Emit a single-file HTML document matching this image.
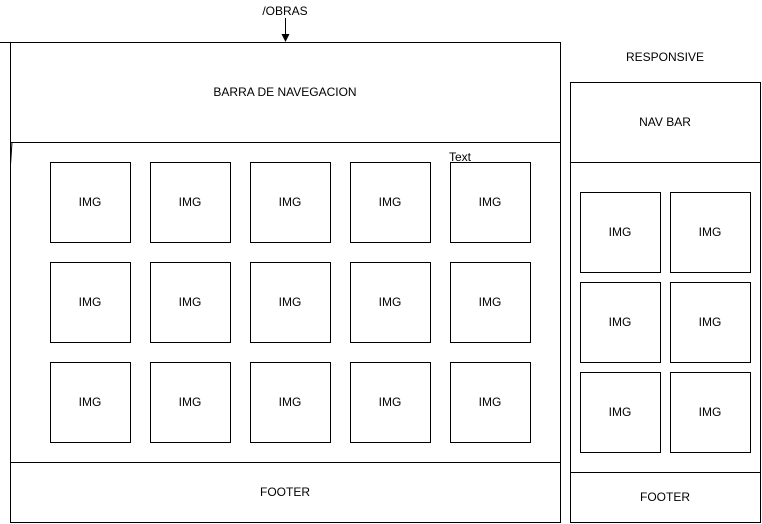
<!DOCTYPE html>
<html><head><style>body{margin:0;background:#fff}svg{display:block}text{font-family:"Liberation Sans",Arial,sans-serif;font-size:12px;fill:#000}</style></head><body>
<svg width="762" height="524" viewBox="0 0 762 524">
<g fill="none" stroke="#000" stroke-width="1">
<line x1="0" y1="42.5" x2="10" y2="42.5"/>
<line x1="12" y1="142" x2="10.5" y2="165"/>
<rect x="10.5" y="42.5" width="550" height="100"/>
<rect x="10.5" y="142.5" width="550" height="320"/>
<rect x="10.5" y="462.5" width="550" height="60"/>
<rect x="570.5" y="82.5" width="190" height="80"/>
<rect x="570.5" y="162.5" width="190" height="310"/>
<rect x="570.5" y="472.5" width="190" height="50"/>
<line x1="285.5" y1="18" x2="285.5" y2="36"/>
</g>
<polygon points="281.5,34 289.5,34 285.5,42" fill="#000"/>
<g fill="none" stroke="#000">
<rect x="50.5" y="162.5" width="80" height="80"/><rect x="150.5" y="162.5" width="80" height="80"/><rect x="250.5" y="162.5" width="80" height="80"/><rect x="350.5" y="162.5" width="80" height="80"/><rect x="450.5" y="162.5" width="80" height="80"/>
<rect x="50.5" y="262.5" width="80" height="80"/><rect x="150.5" y="262.5" width="80" height="80"/><rect x="250.5" y="262.5" width="80" height="80"/><rect x="350.5" y="262.5" width="80" height="80"/><rect x="450.5" y="262.5" width="80" height="80"/>
<rect x="50.5" y="362.5" width="80" height="80"/><rect x="150.5" y="362.5" width="80" height="80"/><rect x="250.5" y="362.5" width="80" height="80"/><rect x="350.5" y="362.5" width="80" height="80"/><rect x="450.5" y="362.5" width="80" height="80"/>
<rect x="580.5" y="192.5" width="80" height="80"/><rect x="670.5" y="192.5" width="80" height="80"/>
<rect x="580.5" y="282.5" width="80" height="80"/><rect x="670.5" y="282.5" width="80" height="80"/>
<rect x="580.5" y="372.5" width="80" height="80"/><rect x="670.5" y="372.5" width="80" height="80"/>
</g>
<g text-anchor="middle">
<text x="285" y="15" font-size="11">/OBRAS</text>
<text x="285" y="96">BARRA DE NAVEGACION</text>
<text x="285" y="496">FOOTER</text>
<text x="665" y="61">RESPONSIVE</text>
<text x="665" y="126">NAV BAR</text>
<text x="665" y="501">FOOTER</text>
<text x="90" y="206">IMG</text><text x="190" y="206">IMG</text><text x="290" y="206">IMG</text><text x="390" y="206">IMG</text><text x="490" y="206">IMG</text>
<text x="90" y="306">IMG</text><text x="190" y="306">IMG</text><text x="290" y="306">IMG</text><text x="390" y="306">IMG</text><text x="490" y="306">IMG</text>
<text x="90" y="406">IMG</text><text x="190" y="406">IMG</text><text x="290" y="406">IMG</text><text x="390" y="406">IMG</text><text x="490" y="406">IMG</text>
<text x="620" y="236">IMG</text><text x="710" y="236">IMG</text>
<text x="620" y="326">IMG</text><text x="710" y="326">IMG</text>
<text x="620" y="416">IMG</text><text x="710" y="416">IMG</text>
</g>
<text x="449" y="161">Text</text>
</svg>
</body></html>
